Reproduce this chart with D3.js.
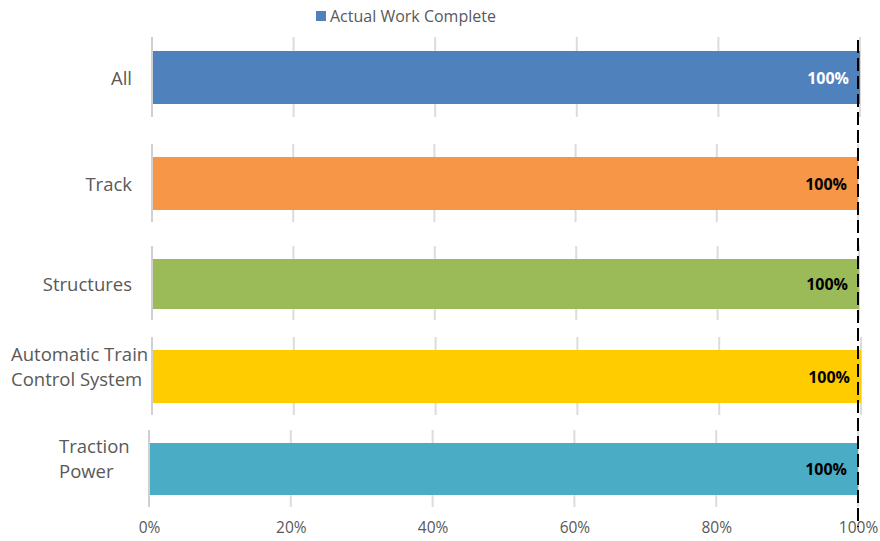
<!DOCTYPE html>
<html>
<head>
<meta charset="utf-8">
<script src="https://cdn.jsdelivr.net/npm/d3@7"></script>
<style>
  body { margin: 0; background: #fff; }
  svg { font-family: "Open Sans", sans-serif; }
</style>
</head>
<body>
<div id="chart"></div>
<script>
// data
var categories = ["All", "Track", "Structures", "Automatic Train Control System", "Traction Power"];
var labelLines = [["All"], ["Track"], ["Structures"], ["Automatic Train", "Control System"], ["Traction", "Power"]];
var values = [100, 100, 100, 100, 100];
var colors = ["#4F81BD", "#F79646", "#9BBB59", "#FFCC00", "#4BACC6"];
var valueColors = ["#fff", "#000", "#000", "#000", "#000"];
var ticks = [0, 20, 40, 60, 80, 100];
var target = 100;
var seriesName = "Actual Work Complete";

// each category sits in its own little panel (slightly offset, like pasted charts)
var panels = [
  {x0: 152, x1: 860, top: 37,  bottom: 117, bar0: 51,  bar1: 104, labelLeft: null},
  {x0: 152, x1: 858, top: 144, bottom: 222, bar0: 157, bar1: 210, labelLeft: null},
  {x0: 152, x1: 859, top: 246, bottom: 320, bar0: 259, bar1: 309, labelLeft: null},
  {x0: 152, x1: 861, top: 337, bottom: 415, bar0: 350, bar1: 403, labelLeft: 11},
  {x0: 149, x1: 858, top: 430, bottom: 507, bar0: 443, bar1: 495, labelLeft: 59}
];

var width = 880, height = 541;

var svg = d3.select("#chart")
  .append("svg")
    .attr("width", width)
    .attr("height", height);

// legend
var legend = svg.append("g").attr("transform", "translate(316,10)");
legend.append("rect")
  .attr("width", 10).attr("height", 10)
  .attr("y", 1)
  .attr("fill", colors[0]);
legend.append("text")
  .attr("x", 14).attr("y", 11.5)
  .attr("font-size", 16)
  .attr("fill", "#595959")
  .text(seriesName);

categories.forEach(function(c, i) {
  var p = panels[i];
  var x = d3.scaleLinear().domain([0, 100]).range([p.x0, p.x1]);
  var g = svg.append("g");

  // gridlines
  g.selectAll("line.grid")
    .data(ticks)
    .enter().append("line")
      .attr("x1", function(d) { return x(d); })
      .attr("x2", function(d) { return x(d); })
      .attr("y1", p.top)
      .attr("y2", p.bottom)
      .attr("stroke", function(d) { return d === 0 ? "#d0d0d0" : "#dcdcdc"; })
      .attr("stroke-width", 2);

  // bar
  g.append("rect")
    .attr("x", x(0) + 1)
    .attr("y", p.bar0)
    .attr("width", x(values[i]) - x(0) - 1)
    .attr("height", p.bar1 - p.bar0)
    .attr("fill", colors[i]);

  // value label
  g.append("text")
    .attr("x", x(values[i]) - 11)
    .attr("y", (p.bar0 + p.bar1) / 2 + 6)
    .attr("text-anchor", "end")
    .attr("font-size", 16)
    .attr("font-weight", "bold")
    .attr("fill", valueColors[i])
    .text(d3.format(".0f")(values[i]) + "%");

  // category label
  var lines = labelLines[i];
  var cy = (p.bar0 + p.bar1) / 2;
  var t = g.append("text")
    .attr("font-size", 18.5)
    .attr("fill", "#595959");
  if (lines.length === 1) {
    t.attr("x", 132).attr("y", cy + 7).attr("text-anchor", "end").text(lines[0]);
  } else {
    lines.forEach(function(l, j) {
      t.append("tspan")
        .attr("x", p.labelLeft)
        .attr("y", cy - 16 + j * 25)
        .text(l);
    });
  }
});

// bottom axis, from the last panel
var pl = panels[panels.length - 1];
var xb = d3.scaleLinear().domain([0, 100]).range([pl.x0, pl.x1]);
var axis = svg.append("g")
  .attr("transform", "translate(0,518)")
  .call(d3.axisBottom(xb).tickValues(ticks).tickSize(0).tickPadding(4)
    .tickFormat(function(d) { return d + "%"; }));
axis.select(".domain").remove();
axis.selectAll("text")
  .attr("font-family", "Open Sans, sans-serif")
  .attr("font-size", 15.5)
  .attr("fill", "#595959");

// target dashed line
svg.append("line")
  .attr("x1", xb(target)).attr("x2", xb(target))
  .attr("y1", 40).attr("y2", 527)
  .attr("stroke", "#000")
  .attr("stroke-width", 2)
  .attr("stroke-dasharray", "13,5");
</script>
</body>
</html>
